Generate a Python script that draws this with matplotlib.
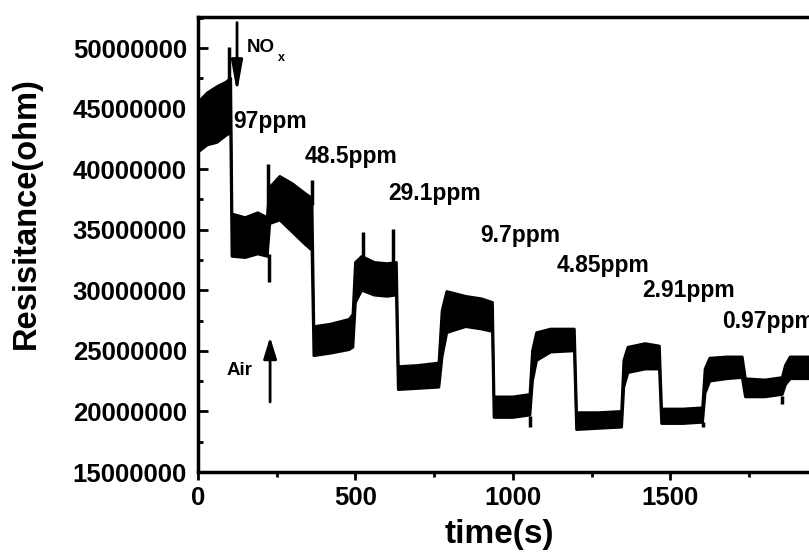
import matplotlib
matplotlib.use('Agg')
import matplotlib.pyplot as plt
from matplotlib.ticker import MultipleLocator, FuncFormatter
import numpy as np

# ------------------------------------------------------------
# Data (time in s, resistance in ohm)
# ------------------------------------------------------------

time_s = [0, 30, 60, 90, 104, 108, 150, 190, 220, 228, 260, 300, 340, 362,
          368, 420, 480, 492, 500, 520, 560, 600, 630, 636, 700, 765, 775,
          790, 850, 900, 935, 940, 1000, 1054, 1062, 1075, 1120, 1195, 1202,
          1270, 1345, 1352, 1365, 1420, 1465, 1472, 1540, 1602, 1610, 1625,
          1680, 1728, 1738, 1800, 1855, 1865, 1880, 1960]

r_upper = [45.5, 46.3, 46.8, 47.2, 47.5, 36.3, 36.0, 36.4, 36.0, 38.5, 39.4,
           38.8, 38.0, 37.6, 27.0, 27.2, 27.6, 28.0, 32.3, 32.8, 32.3, 32.2,
           32.3, 23.7, 23.8, 24.0, 28.3, 29.9, 29.5, 29.3, 29.0, 21.2, 21.2,
           21.4, 25.0, 26.5, 26.8, 26.8, 19.9, 19.9, 20.0, 24.2, 25.3, 25.6,
           25.4, 20.2, 20.2, 20.3, 23.5, 24.4, 24.5, 24.5, 22.7, 22.6, 22.8,
           23.8, 24.5, 24.5]

r_lower = [41.4, 42.0, 42.2, 42.8, 43.0, 32.8, 32.7, 33.0, 32.8, 35.5, 35.8,
           34.8, 33.8, 33.3, 24.6, 24.8, 25.1, 25.3, 29.0, 30.0, 29.6, 29.5,
           29.6, 21.8, 21.9, 22.0, 24.5, 26.5, 27.0, 26.8, 26.6, 19.5, 19.5,
           19.7, 22.5, 24.2, 24.9, 25.0, 18.5, 18.6, 18.7, 22.0, 23.2, 23.5,
           23.5, 19.0, 19.0, 19.1, 21.5, 22.5, 22.7, 22.8, 21.2, 21.2, 21.4,
           22.2, 22.7, 22.7]

# short spikes in the trace
spike_t = [100, 222, 224, 362, 524, 619, 1054, 1602, 1855]
spike_from = [45.0, 36.0, 33.0, 37.0, 32.0, 32.0, 19.6, 19.1, 21.3]
spike_to = [50.1, 40.4, 30.7, 39.1, 34.8, 35.1, 18.7, 18.7, 20.6]

conc_labels = ['97ppm', '48.5ppm', '29.1ppm', '9.7ppm', '4.85ppm', '2.91ppm', '0.97ppm']
label_t = [111, 340, 603, 895, 1139, 1409, 1663]
label_r = [43.4, 40.5, 37.45, 33.99, 31.5, 29.45, 26.9]

y_ticks = [15000000, 20000000, 25000000, 30000000, 35000000, 40000000, 45000000, 50000000]
x_ticks = [0, 500, 1000, 1500]

scale = 1e6

# ------------------------------------------------------------
# Plotting
# ------------------------------------------------------------

plt.rcParams['font.family'] = ['Liberation Sans', 'DejaVu Sans']
plt.rcParams['font.weight'] = 'bold'

fig = plt.figure(figsize=(8.09, 5.57), dpi=100)
ax = fig.add_axes([0.2447, 0.1526, 0.7787, 0.8169])

t = np.array(time_s)
up = np.array(r_upper) * scale
lo = np.array(r_lower) * scale
ax.fill_between(t, lo, up, color='black', lw=0)
ax.plot(t, up, color='black', lw=2)
ax.plot(t, lo, color='black', lw=2)
ax.vlines(spike_t, np.array(spike_from) * scale, np.array(spike_to) * scale,
          color='black', lw=2.5)

for lab, x, y in zip(conc_labels, label_t, label_r):
    ax.text(x, y * scale, lab, fontsize=16.5, fontweight='bold', va='baseline', ha='left')

# NOx arrow and label
ax.annotate('', xy=(124, 46.3e6), xytext=(124, 52.1e6),
            arrowprops=dict(arrowstyle='-|>,head_length=0.95,head_width=0.17',
                            mutation_scale=20, lw=2, color='black',
                            shrinkA=0, shrinkB=0),
            annotation_clip=False)
ax.text(156, 49.67e6, 'NO', fontsize=13.5, fontweight='bold', va='baseline')
ax.text(254, 48.93e6, 'x', fontsize=9, fontweight='bold', va='baseline')

# Air arrow and label
ax.annotate('', xy=(229, 26.14e6), xytext=(229, 20.78e6),
            arrowprops=dict(arrowstyle='-|>,head_length=0.65,head_width=0.2',
                            mutation_scale=20, lw=2, color='black',
                            shrinkA=0, shrinkB=0))
ax.text(92, 23.0e6, 'Air', fontsize=13.5, fontweight='bold', va='baseline')

ax.set_xlim(0, 2000)
ax.set_ylim(15e6, 52.56e6)

ax.set_xticks(x_ticks)
ax.xaxis.set_minor_locator(MultipleLocator(250))
ax.set_yticks(y_ticks)
ax.yaxis.set_minor_locator(MultipleLocator(2500000))
ax.yaxis.set_major_formatter(FuncFormatter(lambda v, p: f'{int(v)}'))

ax.tick_params(axis='y', which='major', direction='in', length=7, width=2,
               labelsize=18.5, pad=8)
ax.tick_params(axis='y', which='minor', direction='in', length=3.5, width=2)
ax.tick_params(axis='x', which='major', direction='out', length=6, width=2,
               labelsize=18.5, pad=4)
ax.tick_params(axis='x', which='minor', direction='out', length=3.5, width=2)

for side in ['left', 'bottom', 'top', 'right']:
    ax.spines[side].set_linewidth(2.5)

ax.set_xlabel('time(s)', fontsize=24, fontweight='bold')
ax.xaxis.set_label_coords(0.479, -0.103)
ax.set_ylabel('Resisitance(ohm)', fontsize=23.5, fontweight='bold')
ax.yaxis.set_label_coords(-0.248, 0.569)

plt.savefig('out.png', dpi=100)
plt.close()
